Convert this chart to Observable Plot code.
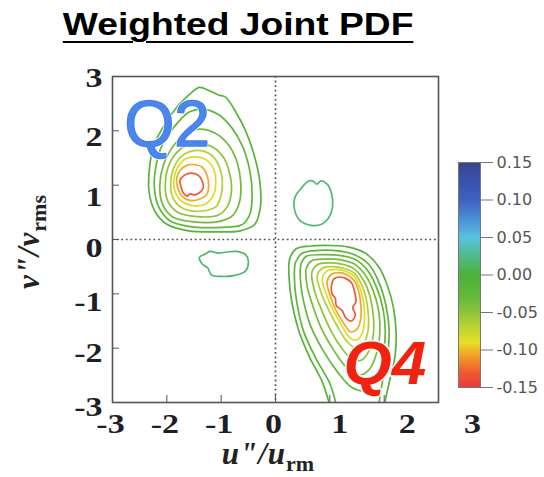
<!DOCTYPE html>
<html><head><meta charset="utf-8">
<script src="https://cdn.jsdelivr.net/npm/d3@7"></script>
<script src="https://cdn.jsdelivr.net/npm/@observablehq/plot@0.6"></script>
<style>
body{margin:0;background:#fff;}
#wrap{position:relative;width:544px;height:477px;overflow:hidden;background:#fff;}
#title{position:absolute;left:0;top:9px;width:477px;text-align:center;font-family:"Liberation Sans",Arial,sans-serif;font-weight:bold;font-size:31px;line-height:31px;color:#000;}
#title span{display:inline-block;transform:scaleX(1.2);text-decoration:underline;text-decoration-thickness:2px;text-underline-offset:6px;}
#main{position:absolute;left:0;top:48px;}
#cbar{position:absolute;left:440px;top:140px;}
.axt{position:absolute;font-family:"Liberation Serif","Times New Roman",serif;font-weight:bold;font-style:italic;font-size:31px;line-height:16px;letter-spacing:1px;color:#222;white-space:nowrap;text-align:center;}
.axt .sub{font-style:normal;font-size:22px;position:relative;top:7px;letter-spacing:0;}
#xt{left:0;width:536px;top:446px;height:16px;}
#yt{left:-41px;top:234px;width:140px;height:16px;transform:rotate(-90deg);}
</style></head>
<body>
<div id="wrap">
  <div id="title"><span>Weighted Joint PDF</span></div>
  <div id="main"></div>
  <div id="cbar"></div>
  <div class="axt" id="xt">u&quot;/u<span class="sub">rm</span></div>
  <div class="axt" id="yt">v&quot;/v<span class="sub">rms</span></div>
</div>
<script>
// ---- colour bar ----
const cbTicks = [-0.15, -0.10, -0.05, 0.00, 0.05, 0.10, 0.15];
const cbDomain = [-0.15, -0.13, -0.11, -0.09, -0.07, -0.05, -0.03, 0, 0.025, 0.05, 0.075, 0.10, 0.125, 0.15];
const cbRange = ["#e83b3b","#ee5a32","#f2982a","#e8de26","#bcd534","#8ec53c","#66b93c","#4cb13a","#4fbb8a","#58c3df","#4a8fd6","#3d62c2","#3a52ae","#38458f"];

// ---- axis ticks ----
const xTicks = [-3, -2, -1, 0, 1, 2, 3];
const yTicks = [-3, -2, -1, 0, 1, 2, 3];

// ---- Q2 lobe contours (outer -> inner) ----
const q2A = [[-1.40,2.80],[-1.22,2.74],[-1.05,2.66],[-0.92,2.62],[-0.75,2.38],[-0.55,2.00],[-0.40,1.58],[-0.29,1.08],[-0.28,0.58],[-0.38,0.28],[-0.65,0.16],[-1.10,0.14],[-1.60,0.16],[-2.00,0.28],[-2.22,0.52],[-2.33,0.90],[-2.32,1.30],[-2.25,1.70],[-2.05,2.10],[-1.78,2.48],[-1.55,2.70]];
const q2B = [[-1.35,2.40],[-1.05,2.30],[-0.80,2.05],[-0.60,1.70],[-0.47,1.25],[-0.43,0.85],[-0.47,0.47],[-0.62,0.27],[-1.10,0.22],[-1.60,0.24],[-1.95,0.35],[-2.15,0.60],[-2.23,0.95],[-2.20,1.35],[-2.08,1.75],[-1.80,2.15],[-1.58,2.35]];
const q2C = [[-1.40,2.03],[-1.10,1.95],[-0.85,1.72],[-0.70,1.40],[-0.64,1.05],[-0.66,0.70],[-0.78,0.45],[-1.05,0.33],[-1.55,0.33],[-1.90,0.42],[-2.08,0.65],[-2.13,1.00],[-2.06,1.38],[-1.86,1.75],[-1.62,1.96]];
const q2D = [[-1.45,1.77],[-1.15,1.70],[-0.95,1.50],[-0.84,1.20],[-0.81,0.90],[-0.88,0.62],[-1.05,0.45],[-1.45,0.42],[-1.80,0.50],[-1.98,0.70],[-2.03,1.00],[-1.98,1.32],[-1.82,1.60],[-1.62,1.74]];
const q2E = [[-1.45,1.64],[-1.20,1.57],[-1.05,1.38],[-0.98,1.10],[-1.00,0.82],[-1.10,0.60],[-1.40,0.52],[-1.70,0.57],[-1.88,0.75],[-1.93,1.02],[-1.88,1.30],[-1.72,1.54]];
const q2F = [[-1.48,1.52],[-1.28,1.47],[-1.14,1.30],[-1.10,1.05],[-1.14,0.82],[-1.28,0.66],[-1.50,0.62],[-1.72,0.70],[-1.85,0.88],[-1.87,1.10],[-1.80,1.33],[-1.66,1.48]];
const q2G = [[-1.52,1.38],[-1.35,1.33],[-1.26,1.18],[-1.23,1.00],[-1.26,0.84],[-1.40,0.74],[-1.58,0.72],[-1.72,0.80],[-1.80,0.95],[-1.82,1.12],[-1.75,1.28],[-1.64,1.36]];
const q2H = [[-1.55,1.22],[-1.42,1.18],[-1.35,1.08],[-1.33,0.95],[-1.40,0.86],[-1.48,0.82],[-1.58,0.84],[-1.62,0.80],[-1.70,0.86],[-1.74,0.98],[-1.76,1.08],[-1.68,1.18]];
const q2Levels = [-0.012, -0.022, -0.034, -0.048, -0.065, -0.085, -0.105, -0.13];

// ---- Q4 lobe contours (outer -> inner); first two leave through the bottom edge ----
const q4A = [[1.00,-3.05],[0.86,-2.62],[0.62,-2.15],[0.42,-1.65],[0.30,-1.15],[0.25,-0.70],[0.26,-0.36],[0.38,-0.17],[0.65,-0.12],[1.00,-0.11],[1.35,-0.14],[1.65,-0.25],[1.90,-0.50],[2.06,-0.85],[2.17,-1.25],[2.22,-1.70],[2.20,-2.15],[2.10,-2.60],[2.00,-3.05]];
const q4B = [[1.12,-3.05],[1.00,-2.65],[0.75,-2.20],[0.52,-1.70],[0.40,-1.20],[0.35,-0.75],[0.37,-0.42],[0.50,-0.25],[0.80,-0.20],[1.15,-0.21],[1.45,-0.28],[1.72,-0.46],[1.90,-0.78],[2.03,-1.20],[2.09,-1.65],[2.06,-2.15],[1.97,-2.60],[1.90,-3.05]];
const q4C = [[0.47,-0.45],[0.57,-0.31],[0.85,-0.28],[1.15,-0.29],[1.45,-0.36],[1.68,-0.55],[1.86,-0.88],[1.98,-1.28],[2.02,-1.70],[1.98,-2.15],[1.85,-2.55],[1.65,-2.78],[1.40,-2.72],[1.15,-2.45],[0.88,-2.05],[0.65,-1.60],[0.52,-1.15],[0.46,-0.75]];
const q4D = [[0.57,-0.52],[0.67,-0.39],[0.90,-0.36],[1.18,-0.37],[1.45,-0.45],[1.65,-0.65],[1.80,-0.95],[1.90,-1.32],[1.92,-1.72],[1.86,-2.10],[1.72,-2.40],[1.52,-2.50],[1.30,-2.35],[1.08,-2.05],[0.85,-1.65],[0.68,-1.20],[0.58,-0.85]];
const q4E = [[0.67,-0.60],[0.78,-0.46],[0.98,-0.43],[1.20,-0.45],[1.45,-0.54],[1.62,-0.75],[1.74,-1.05],[1.80,-1.40],[1.80,-1.75],[1.72,-2.05],[1.58,-2.22],[1.40,-2.20],[1.22,-2.00],[1.02,-1.68],[0.85,-1.30],[0.72,-0.95]];
const q4F = [[0.77,-0.66],[0.88,-0.52],[1.05,-0.50],[1.25,-0.53],[1.45,-0.62],[1.58,-0.82],[1.67,-1.10],[1.71,-1.40],[1.70,-1.70],[1.62,-1.92],[1.48,-2.00],[1.32,-1.88],[1.15,-1.62],[0.98,-1.30],[0.84,-0.98]];
const q4G = [[0.86,-0.72],[0.95,-0.58],[1.10,-0.55],[1.28,-0.58],[1.45,-0.68],[1.55,-0.88],[1.62,-1.15],[1.64,-1.45],[1.60,-1.72],[1.50,-1.85],[1.36,-1.80],[1.22,-1.58],[1.06,-1.30],[0.94,-1.02]];
const q4H = [[0.95,-0.78],[1.03,-0.64],[1.16,-0.61],[1.32,-0.65],[1.45,-0.76],[1.53,-0.95],[1.57,-1.20],[1.57,-1.45],[1.50,-1.65],[1.38,-1.70],[1.26,-1.55],[1.12,-1.32],[1.02,-1.08]];
const q4I = [[1.03,-0.85],[1.08,-0.72],[1.18,-0.69],[1.30,-0.72],[1.40,-0.80],[1.46,-0.98],[1.48,-1.15],[1.42,-1.25],[1.47,-1.38],[1.40,-1.50],[1.30,-1.45],[1.22,-1.30],[1.12,-1.22],[1.10,-1.08],[1.04,-1.00]];
const q4Levels = [-0.010, -0.018, -0.027, -0.037, -0.048, -0.065, -0.085, -0.105, -0.13];

// ---- small positive islands (Q1 and Q3) ----
const q1Blob = [[0.48,0.95],[0.58,1.06],[0.68,1.08],[0.76,1.02],[0.84,1.08],[0.95,1.02],[1.03,0.85],[1.05,0.60],[0.98,0.40],[0.85,0.28],[0.65,0.26],[0.45,0.35],[0.35,0.55],[0.36,0.78]];
const q3Blob = [[-1.40,-0.33],[-1.30,-0.27],[-1.20,-0.22],[-1.05,-0.25],[-0.90,-0.23],[-0.72,-0.22],[-0.55,-0.28],[-0.50,-0.40],[-0.55,-0.58],[-0.75,-0.66],[-1.00,-0.68],[-1.18,-0.65],[-1.25,-0.52],[-1.35,-0.45]];
const blobLevels = [0.018, 0.015];

// ---- quadrant labels ----
const quadText = ["Q2", "Q4"];
const quadX = [-2.78, 1.25];
const quadY = [2.09, -2.29];

// build tables
function rows(list, levels, prefix){
  const out = [];
  list.forEach((pts, i) => pts.forEach(([x, y]) => out.push({x, y, id: prefix + i, level: levels[i]})));
  return out;
}
const closedRows = [
  ...rows([q2A,q2B,q2C,q2D,q2E,q2F,q2G,q2H], q2Levels, "q2-"),
  ...rows([q4C,q4D,q4E,q4F,q4G,q4H,q4I], q4Levels.slice(2), "q4c-"),
  ...rows([q1Blob,q3Blob], blobLevels, "blob-")
];
const openRows = rows([q4A,q4B], q4Levels.slice(0,2), "q4o-");
const labels = quadText.map((t,i) => ({t, x: quadX[i], y: quadY[i]}));

const colorOpts = {type: "linear", domain: cbDomain, range: cbRange, clamp: true};
const tickFont = {fontSize: 27, fontWeight: "bold", fontFamily: "Liberation Serif, Times New Roman, serif", fill: "#1e1e26", label: null, tickFormat: d => String(d)};

const main = Plot.plot({
  width: 544, height: 429,
  marginTop: 28, marginLeft: 112, marginRight: 106, marginBottom: 75,
  x: {domain: [-3, 3]}, y: {domain: [-3, 3]},
  color: colorOpts,
  style: {background: "transparent", overflow: "visible"},
  marks: [
    Plot.ruleX([0], {stroke: "#555", strokeWidth: 1.7, strokeDasharray: "1.8,2.8"}),
    Plot.ruleY([0], {stroke: "#555", strokeWidth: 1.7, strokeDasharray: "1.8,2.8"}),
    Plot.line(closedRows, {x: "x", y: "y", z: "id", stroke: "level", curve: "catmull-rom-closed", strokeWidth: 1.7}),
    Plot.line(openRows, {x: "x", y: "y", z: "id", stroke: "level", curve: "catmull-rom", strokeWidth: 1.7, clip: true}),
    Plot.text(labels.slice(0,1), {x: "x", y: "y", text: "t", textAnchor: "start", fontSize: 64, fontFamily: "Liberation Sans, Arial, sans-serif", fill: "#3f7ce8", stroke: "white", strokeWidth: 3, paintOrder: "stroke"}),
    Plot.text(labels.slice(0,1), {x: "x", y: "y", text: "t", textAnchor: "start", fontSize: 64, fontFamily: "Liberation Sans, Arial, sans-serif", fill: "#4a86ec", stroke: "#3f7ce8", strokeWidth: 1.6}),
    Plot.text(labels.slice(1), {x: "x", y: "y", text: "t", textAnchor: "start", fontSize: 62, fontWeight: "bold", fontStyle: "italic", fontFamily: "Liberation Sans, Arial, sans-serif", fill: "#f1220f", stroke: "white", strokeWidth: 3, paintOrder: "stroke"}),
    Plot.frame({stroke: "#555", strokeWidth: 1.6}),
    Plot.axisX(xTicks, {tickSize: -7, fill: "none", stroke: "#555", label: null}),
    Plot.axisY(yTicks, {tickSize: -7, fill: "none", stroke: "#555", label: null}),
    Plot.axisX([-3, -2, -1, 0], {tickSize: 0, tickPadding: 11, dx: -2, ...tickFont}),
    Plot.axisX([1], {tickSize: 0, tickPadding: 11, dx: 10, ...tickFont}),
    Plot.axisX([2], {tickSize: 0, tickPadding: 11, dx: 23, ...tickFont}),
    Plot.axisX([3], {tickSize: 0, tickPadding: 11, dx: 34, ...tickFont}),
    Plot.axisY([3], {tickSize: 0, tickPadding: 10, dy: 2, ...tickFont}),
    Plot.axisY([2], {tickSize: 0, tickPadding: 10, dy: 7, ...tickFont}),
    Plot.axisY([1], {tickSize: 0, tickPadding: 10, dy: 12, ...tickFont}),
    Plot.axisY([0, -1], {tickSize: 0, tickPadding: 10, dy: 9, ...tickFont}),
    Plot.axisY([-2, -3], {tickSize: 0, tickPadding: 10, dy: 5, ...tickFont})
  ]
});
document.getElementById("main").appendChild(main);

// horizontally widen tick-label glyphs (the reference picture is stretched sideways),
// scaling each label about its own anchor so that its position is kept
function stretch(svg, sel, k){
  svg.querySelectorAll(sel).forEach(t => {
    let bb;
    try { bb = t.getBBox(); } catch (e) { return; }
    if (!bb || !isFinite(bb.x)) return;
    const anchor = getComputedStyle(t).textAnchor || "middle";
    const ax = anchor === "end" ? bb.x + bb.width : anchor === "start" ? bb.x : bb.x + bb.width / 2;
    const tr = t.getAttribute("transform");
    const extra = `translate(${ax},0) scale(${k},1) translate(${-ax},0)`;
    t.setAttribute("transform", tr ? `${tr} ${extra}` : extra);
  });
}
stretch(main, 'g[aria-label="x-axis tick label"] text, g[aria-label="y-axis tick label"] text', 1.26);

const cb = Plot.plot({
  width: 104, height: 260,
  marginLeft: 18, marginRight: 64, marginTop: 22, marginBottom: 13,
  x: {domain: [0, 1], axis: null},
  y: {domain: [-0.15, 0.15]},
  color: colorOpts,
  style: {background: "transparent", overflow: "visible"},
  marks: [
    Plot.raster({x1: 0, x2: 1, y1: -0.15, y2: 0.15, fill: (x, y) => y, pixelSize: 1}),
    Plot.frame({stroke: "#777", strokeWidth: 1}),
    Plot.axisY(cbTicks, {anchor: "right", tickSize: 12, tickPadding: 4, tickFormat: d => d.toFixed(2), fontSize: 16, fontFamily: "DejaVu Sans, sans-serif", fill: "#555", stroke: "#777", label: null})
  ]
});
document.getElementById("cbar").appendChild(cb);
</script>
</body></html>
